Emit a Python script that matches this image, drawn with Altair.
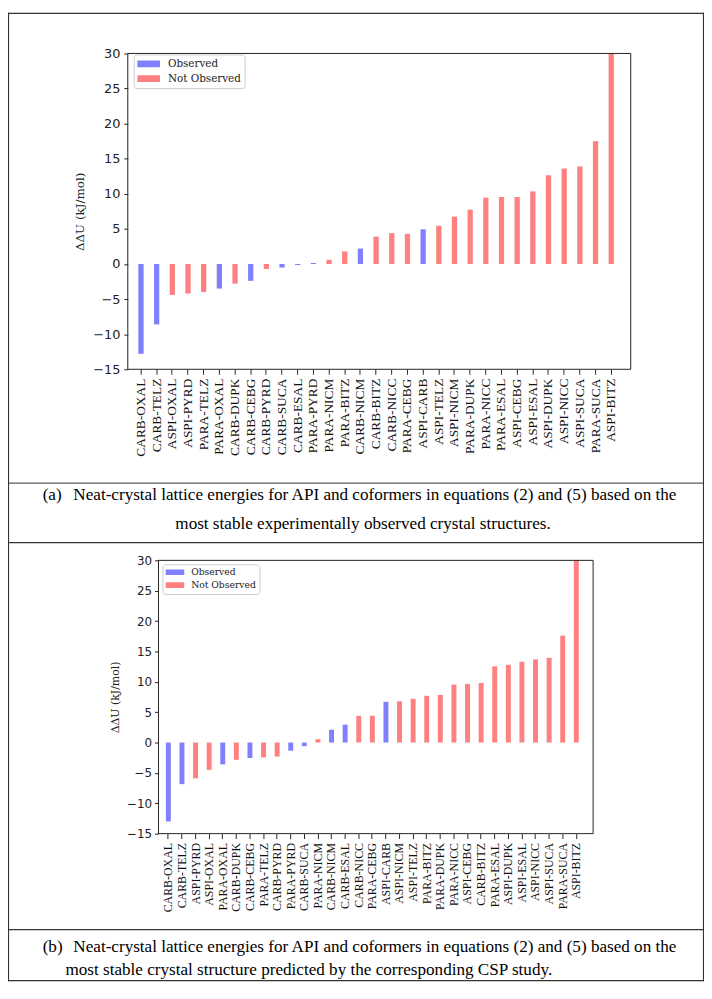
import altair as alt
import pandas as pd

# ---------------- data ----------------
cats_a = ["CARB-OXAL", "CARB-TELZ", "ASPI-OXAL", "ASPI-PYRD", "PARA-TELZ", "PARA-OXAL",
          "CARB-DUPK", "CARB-CEBG", "CARB-PYRD", "CARB-SUCA", "CARB-ESAL", "PARA-PYRD",
          "PARA-NICM", "PARA-BITZ", "CARB-NICM", "CARB-BITZ", "CARB-NICC", "PARA-CEBG",
          "ASPI-CARB", "ASPI-TELZ", "ASPI-NICM", "PARA-DUPK", "PARA-NICC", "PARA-ESAL",
          "ASPI-CEBG", "ASPI-ESAL", "ASPI-DUPK", "ASPI-NICC", "ASPI-SUCA", "PARA-SUCA",
          "ASPI-BITZ"]
vals_a = [-12.8, -8.6, -4.4, -4.2, -4.0, -3.5,
          -2.8, -2.4, -0.7, -0.5, -0.15, 0.15,
          0.6, 1.8, 2.2, 3.9, 4.4, 4.3,
          4.95, 5.45, 6.75, 7.75, 9.45, 9.55,
          9.55, 10.35, 12.65, 13.6, 13.9, 17.5,
          30.0]

cats_b = ["CARB-OXAL", "CARB-TELZ", "ASPI-PYRD", "ASPI-OXAL", "PARA-OXAL", "CARB-DUPK",
          "CARB-CEBG", "PARA-TELZ", "CARB-PYRD", "PARA-PYRD", "CARB-SUCA", "PARA-NICM",
          "CARB-NICM", "CARB-ESAL", "CARB-NICC", "PARA-CEBG", "ASPI-CARB", "ASPI-NICM",
          "ASPI-TELZ", "PARA-BITZ", "PARA-DUPK", "PARA-NICC", "ASPI-CEBG", "CARB-BITZ",
          "PARA-ESAL", "ASPI-DUPK", "ASPI-ESAL", "ASPI-NICC", "ASPI-SUCA", "PARA-SUCA",
          "ASPI-BITZ"]
vals_b = [-13.0, -6.85, -5.9, -4.5, -3.6, -2.85,
          -2.55, -2.45, -2.3, -1.35, -0.6, 0.55,
          2.1, 2.95, 4.4, 4.4, 6.7, 6.8,
          7.2, 7.7, 7.85, 9.55, 9.65, 9.8,
          12.55, 12.8, 13.3, 13.7, 13.95, 17.6,
          30.0]

observed = ["CARB-OXAL", "CARB-TELZ", "PARA-OXAL", "CARB-CEBG", "CARB-SUCA",
            "CARB-ESAL", "PARA-PYRD", "CARB-NICM", "ASPI-CARB"]

status_labels = ["Observed", "Not Observed"]
status_colors = ["#8080ff", "#ff8080"]
y_ticks = [-15, -10, -5, 0, 5, 10, 15, 20, 25, 30]
y_domain = [-15, 30]
y_title = "ΔΔU (kJ/mol)"

caption_a = ["(a)",
             "Neat-crystal lattice energies for API and coformers in equations (2) and (5) based on the",
             "most stable experimentally observed crystal structures."]
caption_b = ["(b)",
             "Neat-crystal lattice energies for API and coformers in equations (2) and (5) based on the",
             "most stable crystal structure predicted by the corresponding CSP study."]

# ---------------- layout ----------------
W, H = 703, 978
INK = "#222222"
LINE = "#333333"


def frame(cats, vals):
    return pd.DataFrame({
        "pair": cats,
        "dU": vals,
        "status": [status_labels[0] if c in observed else status_labels[1] for c in cats],
    })


def bar_panel(df, cats, xr, yr, pad_in, xoff, yoff, lab_size, tick_size, ttl_size,
              ttl_x, ttl_y, lab_pad, leg):
    x_axis = alt.Axis(orient="bottom", offset=yoff, domain=False, grid=False,
                      ticks=True, tickSize=5, tickColor=INK, tickWidth=1,
                      labelAngle=270, labelAlign="right", labelBaseline="middle",
                      labelFont="Liberation Serif", labelFontSize=lab_size,
                      labelColor="#111111", labelPadding=4, labelOverlap=False,
                      title=None)
    y_axis = alt.Axis(orient="left", offset=xoff, domain=False, grid=False,
                      values=y_ticks, tickSize=4, tickColor=INK, tickWidth=1,
                      labelFont="DejaVu Sans", labelFontSize=tick_size,
                      labelColor=INK, labelPadding=lab_pad,
                      title=y_title, titleFont="DejaVu Serif", titleFontSize=ttl_size,
                      titleFontWeight="normal", titleColor=INK, titleAngle=270,
                      titleAlign="center", titleBaseline="middle",
                      titleX=ttl_x, titleY=ttl_y)
    return alt.Chart(df).mark_bar().encode(
        x=alt.X("pair:N", sort=cats,
                scale=alt.Scale(range=xr, paddingInner=pad_in, paddingOuter=pad_in / 2),
                axis=x_axis),
        y=alt.Y("dU:Q", scale=alt.Scale(domain=y_domain, range=yr, nice=False, zero=False),
                axis=y_axis),
        color=alt.Color("status:N",
                        scale=alt.Scale(domain=status_labels, range=status_colors),
                        legend=leg),
    )


leg_a = alt.Legend(title=None, orient="none", legendX=127, legendY=42,
                   symbolType="M-1,-0.3H1V0.3H-1Z", symbolSize=529, symbolStrokeWidth=0,
                   symbolOpacity=1, clipHeight=12, rowPadding=3, padding=3.5,
                   labelFont="DejaVu Serif", labelFontSize=10.5, labelColor=INK,
                   labelOffset=8, strokeColor="#cccccc", cornerRadius=3, fillColor="white")
leg_b = alt.Legend(title=None, orient="none", legendX=156, legendY=557,
                   symbolType="M-1,-0.3H1V0.3H-1Z", symbolSize=361, symbolStrokeWidth=0,
                   symbolOpacity=1, clipHeight=10, rowPadding=2, padding=3,
                   labelFont="DejaVu Serif", labelFontSize=9.3, labelColor=INK,
                   labelOffset=7, strokeColor="#cccccc", cornerRadius=3, fillColor="white")

df_a = frame(cats_a, vals_a)
df_b = frame(cats_b, vals_b)

bars_a = bar_panel(df_a, cats_a, [126.4, 617.2], [360, 41], 0.665, -121, -(H - 360),
                   13.5, 13, 12, -49, 200.5, 4, leg_a)
bars_b = bar_panel(df_b, cats_b, [155.1, 580.9], [829, 553], 0.636, -152, -(H - 829),
                   12, 12, 11, -43, 691, 3, leg_b)

one = pd.DataFrame({"k": [0]})


def box(x1, x2, y1, y2):
    return alt.Chart(one).mark_rect(fillOpacity=0, stroke=INK, strokeWidth=1).encode(
        x=alt.value(x1), x2=alt.value(x2), y=alt.value(y1), y2=alt.value(y2))


def hline(y, w=1.0):
    return alt.Chart(one).mark_rule(color=LINE, strokeWidth=w).encode(
        x=alt.value(0), x2=alt.value(W), y=alt.value(y))


def vline(x, w=1.0):
    return alt.Chart(one).mark_rule(color=LINE, strokeWidth=w).encode(
        x=alt.value(x), y=alt.value(0), y2=alt.value(H))


def caption(text, x, y):
    return alt.Chart(pd.DataFrame({"caption": [text]})).mark_text(
        align="left", baseline="middle", font="Liberation Serif", fontSize=17.3,
        color="black").encode(x=alt.value(x), y=alt.value(y), text="caption:N")


layers = [
    bars_a, bars_b,
    box(121, 629, 41, 360),
    box(152, 591, 553, 829),
    vline(0.5, 1.2), vline(702.5, 1.2),
    hline(0.5, 1.2), hline(475), hline(535, 1.2), hline(926, 1.2), hline(977.5, 1.2),
    caption(caption_a[0], 35, 487), caption(caption_a[1], 66, 487), caption(caption_a[2], 169, 516),
    caption(caption_b[0], 35, 944), caption(caption_b[1], 66, 944), caption(caption_b[2], 58, 967),
]

chart = alt.layer(*layers).resolve_scale(
    x="independent", y="independent", color="independent"
).properties(
    width=W, height=H, padding=0, autosize=alt.AutoSizeParams(type="none")
).configure_view(stroke=None)

chart.save("out.html", embed_options={"renderer": "svg", "actions": False})
